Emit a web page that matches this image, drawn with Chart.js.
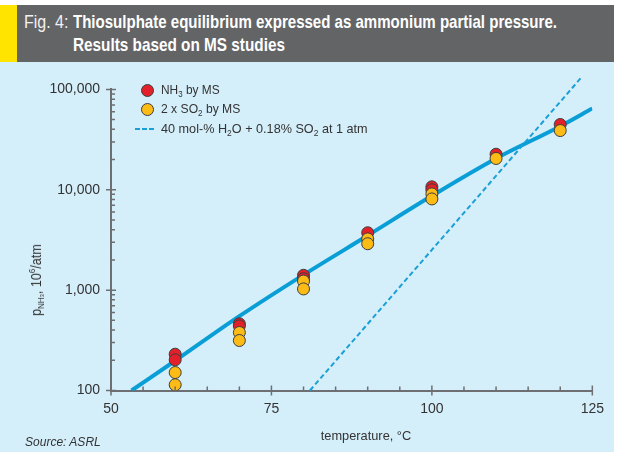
<!DOCTYPE html>
<html>
<head>
<meta charset="utf-8">
<script src="https://cdn.jsdelivr.net/npm/chart.js@4.4.1/dist/chart.umd.min.js"></script>
<style>
    body { margin: 0; width: 619px; height: 458px; background: #fff; position: relative; overflow: hidden;
        font-family: 'Liberation Sans', Arial, sans-serif; color: #333; }
    #panel { position: absolute; left: 0; top: 5px; width: 614px; height: 447px; background: #d4eefa; }
    #header { position: absolute; left: 0; top: 5px; width: 614px; height: 57px; background: #636466; }
    #stripe { position: absolute; left: 0; top: 0; width: 17px; height: 57px; background: #ffe400; }
    .tline { position: absolute; color: #fff; font-size: 18.5px; line-height: 22px; white-space: nowrap; transform-origin: left center; }
    .tline b { font-weight: bold; }
    #chartBox { position: absolute; left: 0; top: 70px; width: 614px; height: 370px; }
    .leg { position: absolute; font-size: 13.5px; line-height: 18px; white-space: nowrap; color: #333; transform-origin: left center; }
    .dot { position: absolute; width: 11px; height: 11px; border-radius: 50%; border: 1px solid #3d3d3d; }
    .dash { position: absolute; height: 2px; width: 5px; background: #1a9fd6; }
    sub { font-size: 9px; vertical-align: -3px; line-height: 0; }
    sup { font-size: 9px; vertical-align: 6px; line-height: 0; }
    #ytitle { position: absolute; left: 36px; top: 280px; font-size: 14px; white-space: nowrap; }
    #xtitle { position: absolute; left: 366px; top: 435px; font-size: 13.5px; white-space: nowrap; }
    #source { position: absolute; left: 25px; top: 435px; font-size: 12.5px; font-style: italic; white-space: nowrap; transform-origin: left center; }
</style>
</head>
<body>
<div id="panel"></div>
<div id="header">
    <div id="stripe"></div>
    <div class="tline" id="figLabel" style="left:24px; top:6px; color:#f2f2f2;">Fig. 4:</div>
    <div class="tline" id="title1" style="left:73px; top:6px;"><b>Thiosulphate equilibrium expressed as ammonium partial pressure.</b></div>
    <div class="tline" id="title2" style="left:73px; top:29px;"><b>Results based on MS studies</b></div>
</div>
<div id="chartBox"><canvas id="thioChart" width="614" height="370"></canvas></div>

<div class="dot" style="left:141px; top:84px; background:#e3202a;"></div>
<div class="leg" id="leg1" style="left:161px; top:81px;">NH<sub>3</sub> by MS</div>
<div class="dot" style="left:141px; top:103px; background:#fdbb16;"></div>
<div class="leg" id="leg2" style="left:161px; top:100px;">2 x SO<sub>2</sub> by MS</div>
<div class="dash" style="left:135px; top:128px;"></div>
<div class="dash" style="left:142px; top:128px;"></div>
<div class="dash" style="left:149px; top:128px;"></div>
<div class="leg" id="leg3" style="left:161px; top:120px;">40 mol-% H<sub>2</sub>O + 0.18% SO<sub>2</sub> at 1 atm</div>

<div id="ytitle">p<sub>NH<span style="font-size:6px">3</span></sub>, 10<sup>6</sup>/atm</div>
<div id="xtitle">temperature, °C</div>
<div id="source">Source: ASRL</div>

<script>
// measured points (temperature °C, p NH3 in 10^6 atm)
const nh3Temp = [60, 60, 70, 70, 80, 80, 90, 100, 100, 110, 120];
const nh3Value = [230, 202, 462, 440, 1406, 1300, 3730, 10700, 10000, 22600, 44700];
const so2Temp = [60, 60, 70, 70, 80, 80, 90, 90, 100, 100, 110, 120];
const so2Value = [151, 114, 378, 315, 1230, 1028, 3240, 2900, 9100, 8100, 20500, 38900];

// fitted curve
const fitTemp = [53.2, 60, 70, 80, 90, 100, 110, 120, 125];
const fitValue = [100, 198, 550, 1420, 3500, 8700, 20500, 43000, 64600];

// 40 mol-% H2O + 0.18% SO2 at 1 atm
const lineTemp = [81.0, 123.3];
const lineValue = [100, 131800];

const xTicks = [50, 75, 100, 125];
const yTicks = [100, 1000, 10000, 100000];

const toPoints = (xs, ys) => xs.map((x, i) => ({ x: x, y: ys[i] }));

const axisColor = "#6d6f72";

// squeeze text horizontally to the width it has in the figure (condensed face)
function fitWidth(id, target, prefix) {
    const el = document.getElementById(id);
    const s = target / el.offsetWidth;
    el.style.transform = (prefix || "") + " scaleX(" + s.toFixed(3) + ")";
}
fitWidth("figLabel", 44);
fitWidth("title1", 484);
fitWidth("title2", 212);
fitWidth("leg1", 59);
fitWidth("leg2", 79);
fitWidth("leg3", 207);
fitWidth("source", 76);
fitWidth("xtitle", 90, "translate(-50%, -50%)");
fitWidth("ytitle", 72, "translate(-50%, -50%) rotate(-90deg)");

// axis tick marks: majors cross the axis, minors point inward
const tickMarks = {
    id: "tickMarks",
    afterDraw(chart) {
        const ctx = chart.ctx;
        const xs = chart.scales.x;
        const ys = chart.scales.y;
        const area = chart.chartArea;
        ctx.save();
        ctx.strokeStyle = axisColor;
        ctx.lineWidth = 1.5;
        ctx.beginPath();
        for (let t = 50; t <= 125; t += 5) {
            const px = xs.getPixelForValue(t);
            if (xTicks.includes(t)) {
                ctx.moveTo(px, area.bottom - 5);
                ctx.lineTo(px, area.bottom + 5);
            } else {
                ctx.moveTo(px, area.bottom);
                ctx.lineTo(px, area.bottom - 4);
            }
        }
        yTicks.forEach(v => {
            const py = ys.getPixelForValue(v);
            ctx.moveTo(area.left - 5, py);
            ctx.lineTo(area.left + 5, py);
            if (v < 100000) {
                for (let m = 2; m <= 9; m++) {
                    const my = ys.getPixelForValue(v * m);
                    ctx.moveTo(area.left, my);
                    ctx.lineTo(area.left + 4, my);
                }
            }
        });
        ctx.stroke();
        ctx.restore();
    }
};

Chart.defaults.font.family = "'Liberation Sans', Arial, sans-serif";
Chart.defaults.color = "#333";

new Chart(document.getElementById("thioChart"), {
    type: "scatter",
    data: {
        datasets: [
            {
                label: "2 x SO2 by MS",
                data: toPoints(so2Temp, so2Value),
                backgroundColor: "#fdbb16",
                borderColor: "#3d3d3d",
                borderWidth: 1,
                pointRadius: 6
            },
            {
                label: "NH3 by MS",
                data: toPoints(nh3Temp, nh3Value),
                backgroundColor: "#e3202a",
                borderColor: "#3d3d3d",
                borderWidth: 1,
                pointRadius: 6
            },
            {
                label: "40 mol-% H2O + 0.18% SO2 at 1 atm",
                data: toPoints(lineTemp, lineValue),
                showLine: true,
                borderColor: "#1a9fd6",
                borderWidth: 2,
                borderDash: [5, 3],
                pointRadius: 0,
                clip: false
            },
            {
                label: "fit",
                data: toPoints(fitTemp, fitValue),
                showLine: true,
                borderColor: "#0a9ed6",
                borderWidth: 4,
                pointRadius: 0,
                cubicInterpolationMode: "monotone"
            }
        ]
    },
    options: {
        responsive: false,
        animation: false,
        layout: { padding: { top: 19, right: 18, bottom: 0, left: 0 } },
        plugins: { legend: { display: false }, tooltip: { enabled: false } },
        scales: {
            x: {
                type: "linear",
                min: 50,
                max: 125,
                afterBuildTicks: scale => { scale.ticks = xTicks.map(v => ({ value: v })); },
                afterFit: scale => { scale.height = 49.5; },
                grid: { display: false, drawTicks: false },
                border: { display: true, color: axisColor, width: 2 },
                ticks: { padding: 10, font: { size: 14 }, color: "#333" }
            },
            y: {
                type: "logarithmic",
                min: 100,
                max: 100000,
                afterBuildTicks: scale => { scale.ticks = yTicks.map(v => ({ value: v })); },
                afterFit: scale => { scale.width = 111; },
                grid: { display: false, drawTicks: false },
                border: { display: true, color: axisColor, width: 2 },
                ticks: { padding: 11, font: { size: 14 }, color: "#333", callback: v => v.toLocaleString("en-US") }
            }
        }
    },
    plugins: [tickMarks]
});
</script>
</body>
</html>
